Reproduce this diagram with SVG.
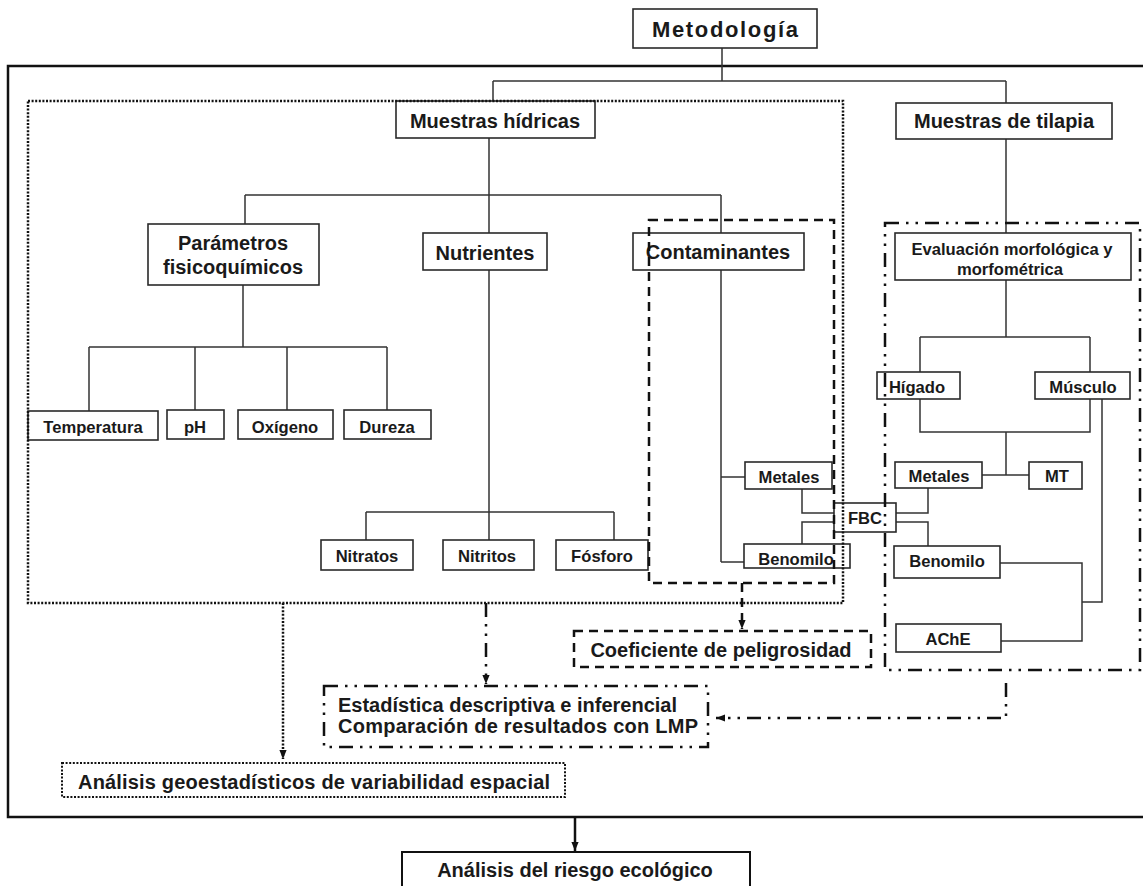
<svg xmlns="http://www.w3.org/2000/svg" width="1143" height="886" viewBox="0 0 1143 886">
<defs>
<style>
.box{fill:#fff;stroke:#2a2a2a;stroke-width:1.6}
.t{font-family:"Liberation Sans",Arial,sans-serif;font-weight:bold;fill:#1a1a1a;text-anchor:middle}
.l{font-size:20px}
.s{font-size:16.6px}
.ln{fill:none;stroke:#333;stroke-width:1.5}
.fr{fill:none;stroke:#111;stroke-width:2.5}
.dot{fill:none;stroke:#111;stroke-width:2.5;stroke-dasharray:2 1.6}
.dash{fill:none;stroke:#111;stroke-width:2.5;stroke-dasharray:9 6}
.dd{fill:none;stroke:#111;stroke-width:2.5;stroke-dasharray:14 7 2.5 7 2.5 7}
</style>
<marker id="ah" viewBox="0 0 10 10" refX="10" refY="5" markerWidth="9" markerHeight="9" markerUnits="userSpaceOnUse" orient="auto"><path d="M0,1 L10,5 L0,9 Z" fill="#111"/></marker>
</defs>
<rect width="1143" height="886" fill="#fff"/>

<!-- outer frame -->
<rect id="frame" class="fr" x="8" y="66" width="1145" height="751"/>

<g id="connectors">
<path class="ln" d="M722,48 V81 M493,81 H1006 M493,81 V101 M1006,81 V103"/>
<path class="ln" d="M489,138 V233 M245,195 H721 M245,195 V224 M721,195 V233"/>
<path class="ln" d="M243,285 V347 M89,347 H387 M89,347 V411 M195,347 V410 M287,347 V410 M387,347 V410"/>
<path class="ln" d="M489,270 V540 M366,512 H614 M366,512 V540 M614,512 V540"/>
<path class="ln" d="M721,270 V562 M721,477 H745 M721,562 H744"/>
<path class="ln" d="M802,489 V513 H834 M802,544 V522 H834"/>
<path class="ln" d="M896,513 H928 V488 M896,522 H928 V546"/>
<path class="ln" d="M1006,139 V233 M1006,280 V337 M920,337 H1090 M920,337 V372 M1090,337 V372"/>
<path class="ln" d="M920,399 V432 H1090 V399 M1006,432 V475 M982,475 H1029"/>
<path class="ln" d="M1000,563 H1082 V641 H1001 M1102,399 V602 H1082"/>
<!-- arrows -->
<path class="dot" d="M283,603 V759" marker-end="url(#ah)"/>
<path class="dd" d="M486,603 V684" marker-end="url(#ah)"/>
<path class="dash" d="M742,583 V629" marker-end="url(#ah)"/>
<path class="dd" d="M1006,683 V718 H716" marker-end="url(#ah)"/>
<path class="fr" d="M575,817 V851" marker-end="url(#ah)"/>
</g>

<g id="n-metodologia"><rect class="box" x="633" y="9" width="184" height="39"/><text class="t" x="725" y="37" font-size="22" textLength="146">Metodología</text></g>
<g id="n-hidricas"><rect class="box" x="396" y="101" width="199" height="37"/><text class="t l" x="495" y="128">Muestras hídricas</text></g>
<g id="n-tilapia"><rect class="box" x="896" y="103" width="216" height="36"/><text class="t l" x="1004" y="128">Muestras de tilapia</text></g>
<g id="n-parametros"><rect class="box" x="148" y="224" width="171" height="61"/><text class="t l" x="233" y="250">Parámetros</text><text class="t l" x="233" y="274">fisicoquímicos</text></g>
<g id="n-nutrientes"><rect class="box" x="423" y="233" width="124" height="37"/><text class="t l" x="485" y="260">Nutrientes</text></g>
<g id="n-contaminantes"><rect class="box" x="633" y="233" width="171" height="37"/><text class="t l" x="718" y="259">Contaminantes</text></g>
<g id="n-temperatura"><rect class="box" x="28" y="411" width="130" height="29"/><text class="t s" x="93" y="433">Temperatura</text></g>
<g id="n-ph"><rect class="box" x="167" y="410" width="57" height="29"/><text class="t s" x="195" y="433">pH</text></g>
<g id="n-oxigeno"><rect class="box" x="238" y="410" width="95" height="29"/><text class="t s" x="285" y="433">Oxígeno</text></g>
<g id="n-dureza"><rect class="box" x="344" y="410" width="87" height="29"/><text class="t s" x="387" y="433">Dureza</text></g>
<g id="n-nitratos"><rect class="box" x="321" y="540" width="92" height="30"/><text class="t s" x="367" y="562">Nitratos</text></g>
<g id="n-nitritos"><rect class="box" x="443" y="540" width="91" height="30"/><text class="t s" x="487" y="562">Nitritos</text></g>
<g id="n-fosforo"><rect class="box" x="556" y="540" width="92" height="30"/><text class="t s" x="602" y="562">Fósforo</text></g>
<g id="n-metales-c"><rect class="box" x="745" y="462" width="87" height="27"/><text class="t s" x="789" y="483">Metales</text></g>
<g id="n-benomilo-c"><rect class="box" x="744" y="544" width="106" height="24"/><text class="t s" x="796" y="565">Benomilo</text></g>
<g id="n-fbc"><rect class="box" x="834" y="503" width="62" height="29"/><text class="t s" x="865" y="524">FBC</text></g>
<g id="n-evaluacion"><rect class="box" x="895" y="233" width="236" height="47"/><text class="t s" x="1012" y="255">Evaluación morfológica y</text><text class="t s" x="1010" y="275">morfométrica</text></g>
<g id="n-higado"><rect class="box" x="877" y="372" width="83" height="27"/><text class="t s" x="917" y="393">Hígado</text></g>
<g id="n-musculo"><rect class="box" x="1035" y="372" width="95" height="27"/><text class="t s" x="1083" y="393">Músculo</text></g>
<g id="n-metales-t"><rect class="box" x="895" y="462" width="87" height="26"/><text class="t s" x="939" y="482">Metales</text></g>
<g id="n-mt"><rect class="box" x="1029" y="462" width="53" height="27"/><text class="t s" x="1057" y="482">MT</text></g>
<g id="n-benomilo-t"><rect class="box" x="894" y="546" width="106" height="32"/><text class="t s" x="947" y="567">Benomilo</text></g>
<g id="n-ache"><rect class="box" x="896" y="624" width="105" height="28"/><text class="t s" x="948" y="645">AChE</text></g>
<g id="n-coeficiente"><rect class="dash" x="574" y="631" width="297" height="36"/><text class="t l" x="721" y="657">Coeficiente de peligrosidad</text></g>
<g id="n-estadistica"><rect class="dd" x="324" y="686" width="384" height="61"/><text class="t l" x="338" y="712" style="text-anchor:start">Estadística descriptiva e inferencial</text><text class="t l" x="338" y="733" style="text-anchor:start" textLength="360">Comparación de resultados con LMP</text></g>
<g id="n-geo"><rect class="dot" x="62" y="763" width="503" height="34" style="stroke-width:2"/><text class="t l" x="78" y="789" style="text-anchor:start" textLength="472">Análisis geoestadísticos de variabilidad espacial</text></g>
<g id="n-riesgo"><rect class="fr" x="402" y="852" width="348" height="50" style="stroke-width:2"/><text class="t l" x="575" y="877">Análisis del riesgo ecológico</text></g>

<!-- group frames -->
<g id="groups">
<rect class="dot" x="28" y="101" width="815" height="502"/>
<rect class="dash" x="649" y="220" width="185" height="363"/>
<rect class="dd" x="885" y="223" width="255" height="447"/>
</g>
</svg>
